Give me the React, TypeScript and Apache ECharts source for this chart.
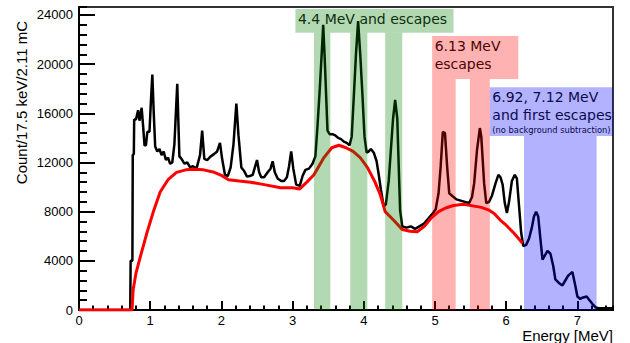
import React, { useEffect, useRef } from 'react';
import * as echarts from 'echarts';

// Measured spectrum (MeV, counts per 17.5 keV bin)
const histEnergy = [
  0, 0.72, 0.725, 0.75, 0.755, 0.77, 0.775, 0.8, 0.83, 0.85, 0.88, 0.9, 0.92, 0.94, 0.96, 0.99,
  1.01, 1.03, 1.05, 1.07, 1.1, 1.13, 1.16, 1.19, 1.22, 1.25, 1.28, 1.31, 1.34, 1.38, 1.41, 1.44,
  1.48, 1.52, 1.56, 1.6, 1.65, 1.7, 1.73, 1.76, 1.8, 1.85, 1.9, 1.94, 1.98, 2.01, 2.05, 2.09,
  2.13, 2.17, 2.21, 2.24, 2.28, 2.32, 2.36, 2.4, 2.44, 2.47, 2.5, 2.53, 2.56, 2.6, 2.65, 2.69,
  2.72, 2.75, 2.79, 2.84, 2.88, 2.92, 2.95, 2.98, 3.01, 3.05, 3.1, 3.14, 3.18, 3.23, 3.28, 3.32,
  3.35, 3.38, 3.41, 3.43, 3.45, 3.47, 3.49, 3.52, 3.56, 3.6, 3.64, 3.68, 3.72, 3.76, 3.8, 3.83,
  3.86, 3.89, 3.92, 3.95, 3.98, 4.01, 4.04, 4.07, 4.1, 4.14, 4.18, 4.21, 4.24, 4.28, 4.31, 4.35,
  4.38, 4.41, 4.44, 4.47, 4.49, 4.51, 4.54, 4.6, 4.66, 4.72, 4.78, 4.84, 4.9, 4.96, 5.01, 5.05,
  5.08, 5.11, 5.14, 5.17, 5.2, 5.24, 5.3, 5.36, 5.42, 5.48, 5.52, 5.55, 5.59, 5.63, 5.65, 5.69,
  5.72, 5.76, 5.8, 5.85, 5.89, 5.92, 5.95, 5.98, 6.01, 6.04, 6.08, 6.12, 6.15, 6.18, 6.21, 6.24,
  6.28, 6.32, 6.36, 6.39, 6.42, 6.45, 6.48, 6.51, 6.55, 6.58, 6.62, 6.66, 6.69, 6.74, 6.79, 6.83,
  6.87, 6.93, 6.97, 7.0, 7.04, 7.07, 7.13, 7.17, 7.21, 7.26, 7.3, 7.5,
];
const histCount = [
  0, 0, 4000, 4000, 12600, 12700, 15500, 15500, 16250, 15400, 16450, 15000, 13400, 13400, 14500, 14500,
  17000, 19150, 16000, 13300, 12900, 13100, 12600, 12900, 12200, 12400, 11900, 12000, 13500, 18400, 12500, 12300,
  11900, 12000, 11600, 11700, 11500, 12600, 14600, 12300, 12200, 12500, 12700, 12900, 13600, 12300, 11000, 10900,
  11600, 13500, 16800, 14200, 11600, 11300, 10850, 10900, 11000, 11600, 12200, 11200, 10800, 10800, 11200, 11500,
  12100, 11200, 10700, 10500, 10500, 10800, 11700, 12900, 11500, 10200, 10100, 10900, 11400, 11500, 11900, 12500,
  15000, 17800, 21000, 23200, 20600, 17600, 14600, 14300, 14300, 14200, 14000, 13900, 13700, 13600, 13400, 14100,
  17400, 20800, 23500, 20800, 17600, 14100, 12800, 12900, 13100, 12800, 12100, 11000, 9800, 8400, 8600, 10500,
  13000, 15500, 17100, 15600, 11800, 8100, 6800, 6700, 6800, 6600, 6800, 7000, 7400, 7800, 8200, 9500,
  11700, 14500, 14400, 11700, 9500, 9300, 9000, 8900, 8800, 8700, 9200, 10300, 13000, 14800, 14100, 10300,
  8700, 8800, 9300, 10300, 11000, 10800, 10200, 8700, 7900, 8800, 10500, 11000, 10700, 8500, 6300, 5200,
  5300, 5800, 6700, 7600, 8000, 7600, 5800, 4100, 4500, 4800, 4600, 3600, 2500, 2200, 2000, 2400,
  2800, 3100, 2000, 1100, 900, 1000, 1100, 800, 500, 200, 150, 150,
];

// Background estimate (red curve)
const bgEnergy = [
  0, 0.745, 0.76, 0.8, 0.86, 0.95, 1.05, 1.14, 1.25, 1.37, 1.5, 1.62, 1.75, 1.9, 2.0, 2.1,
  2.25, 2.41, 2.6, 2.83, 3.0, 3.1, 3.2, 3.3, 3.44, 3.55, 3.65, 3.75, 3.85, 3.95, 4.05, 4.15,
  4.23, 4.3, 4.42, 4.54, 4.65, 4.75, 4.85, 4.95, 5.05, 5.15, 5.26, 5.4, 5.55, 5.65, 5.75, 5.83,
  5.92, 6.0, 6.11, 6.23,
];
const bgCount = [
  0, 0, 1600, 3000, 4300, 6200, 8100, 9600, 10600, 11200, 11400, 11450, 11400, 11200, 10950, 10600,
  10500, 10400, 10200, 9950, 9950, 9850, 10400, 11000, 12400, 13200, 13400, 13200, 12900, 12400, 11600, 10500,
  9400, 8000, 7300, 6550, 6400, 6370, 6800, 7500, 8000, 8300, 8500, 8600, 8450, 8350, 8150, 7850,
  7300, 6900, 6240, 5430,
];

// Highlighted regions: [E from, E to, count from, count to, group (0 green, 1 red, 2 blue), label index]
const regions = [
  [3.04, 5.26, 22560, 24490, 0, 0],
  [3.30, 3.53, 0, 22560, 0, -1],
  [3.81, 4.05, 0, 22560, 0, -1],
  [4.30, 4.54, 0, 22560, 0, -1],
  [4.96, 6.17, 18790, 22290, 1, 1],
  [4.96, 5.29, 0, 18790, 1, -1],
  [5.49, 5.77, 0, 18790, 1, -1],
  [5.77, 7.5, 14160, 18120, 2, 2],
  [6.25, 7.27, 0, 14160, 2, -1],
];
const regionLabels = [
  '4.4 MeV and escapes',
  '6.13 MeV\nescapes',
  '6.92, 7.12 MeV\nand first escapes\n{s|(no background subtraction)}',
];

const xTitle = 'Energy [MeV]';
const yTitle = 'Count/17.5 keV/2.11 mC';

const fills = ['rgba(0,128,0,0.3)', 'rgba(255,0,0,0.3)', 'rgba(0,0,255,0.3)'];
const textColors = ['#0d2f0d', '#4a0505', '#0a0a4d'];

export default function App() {
  const ref = useRef<HTMLDivElement>(null);
  useEffect(() => {
    if (!ref.current) return;
    const chart = echarts.init(ref.current, undefined, { renderer: 'svg' });
    const hist = histEnergy.map((e, i) => [e, histCount[i]]);
    const bg = bgEnergy.map((e, i) => [e, bgCount[i]]);
    const labelFont = 'Liberation Sans';
    const plain = (v: number) => String(v);
    const option: any = {
      animation: false,
      grid: { left: 79, right: 17, top: 7, bottom: 33, show: true, borderColor: '#333', borderWidth: 2, backgroundColor: 'transparent' },
      xAxis: [
        {
          type: 'value', min: 0, max: 7.5, interval: 1, position: 'bottom',
          axisLine: { show: true, lineStyle: { color: '#000', width: 2 } },
          axisTick: { show: true, inside: true, length: 9, lineStyle: { color: '#000', width: 2 } },
          axisLabel: { margin: 4, fontSize: 13, lineHeight: 13, color: '#000', fontFamily: labelFont, showMaxLabel: false, formatter: plain },
          splitLine: { show: false },
        },
        {
          type: 'value', min: 0, max: 7.5, interval: 0.2, position: 'bottom',
          axisLine: { show: false },
          axisTick: { show: true, inside: true, length: 4.5, lineStyle: { color: '#000', width: 2 } },
          axisLabel: { show: false },
          splitLine: { show: false },
        },
      ],
      yAxis: [
        {
          type: 'value', min: 0, max: 24650, interval: 4000, position: 'left',
          axisLine: { show: true, lineStyle: { color: '#000', width: 2 } },
          axisTick: { show: true, inside: true, length: 16, lineStyle: { color: '#000', width: 2 } },
          axisLabel: { margin: 6, fontSize: 13, color: '#000', fontFamily: labelFont, showMaxLabel: false, formatter: plain },
          splitLine: { show: false },
        },
        {
          type: 'value', min: 0, max: 24650, interval: 800, position: 'left',
          axisLine: { show: false },
          axisTick: { show: true, inside: true, length: 8, lineStyle: { color: '#000', width: 2 } },
          axisLabel: { show: false },
          splitLine: { show: false },
        },
      ],
      series: [
        {
          type: 'line', data: hist, symbol: 'none', xAxisIndex: 0, yAxisIndex: 0, z: 2,
          lineStyle: { color: '#000', width: 2.5 }, silent: true,
        },
        {
          type: 'line', data: bg, symbol: 'none', xAxisIndex: 0, yAxisIndex: 0, z: 3,
          lineStyle: { color: '#ff0000', width: 3 }, silent: true,
        },
        {
          type: 'custom', data: regions, xAxisIndex: 0, yAxisIndex: 0, z: 10, silent: true,
          encode: { x: [0, 1], y: [2, 3] },
          renderItem: (params: any, api: any) => {
            const x0 = api.value(0), x1 = api.value(1), y0 = api.value(2), y1 = api.value(3);
            const g = api.value(4), li = api.value(5);
            const tl = api.coord([x0, y1]);
            const br = api.coord([x1, y0]);
            const children: any[] = [
              { type: 'rect', shape: { x: tl[0], y: tl[1], width: br[0] - tl[0], height: br[1] - tl[1] }, style: { fill: fills[g] } },
            ];
            if (li >= 0) {
              children.push({
                type: 'text', x: tl[0] + 2.5, y: tl[1] + 1,
                style: {
                  text: regionLabels[li], fill: textColors[g], fontFamily: 'DejaVu Sans', fontSize: 14, lineHeight: 18,
                  align: 'left', verticalAlign: 'top',
                  rich: { s: { fontSize: 8.3, lineHeight: 12, fontFamily: 'DejaVu Sans', fill: textColors[g] } },
                },
              });
            }
            return { type: 'group', children };
          },
        },
      ],
      graphic: [
        { type: 'text', x: 21.5, y: 21, rotation: Math.PI / 2, style: { text: yTitle, align: 'right', verticalAlign: 'middle', fontSize: 15, fontFamily: labelFont, fill: '#000' } },
        { type: 'text', x: 613, y: 335, style: { text: xTitle, align: 'right', verticalAlign: 'middle', fontSize: 15, lineHeight: 15, fontFamily: labelFont, fill: '#000' } },
      ],
    };
    chart.setOption(option);
    return () => chart.dispose();
  }, []);
  return <div ref={ref} style={{ position: 'fixed', left: 0, top: 0, width: 630, height: 343, background: '#fff' }} />;
}
